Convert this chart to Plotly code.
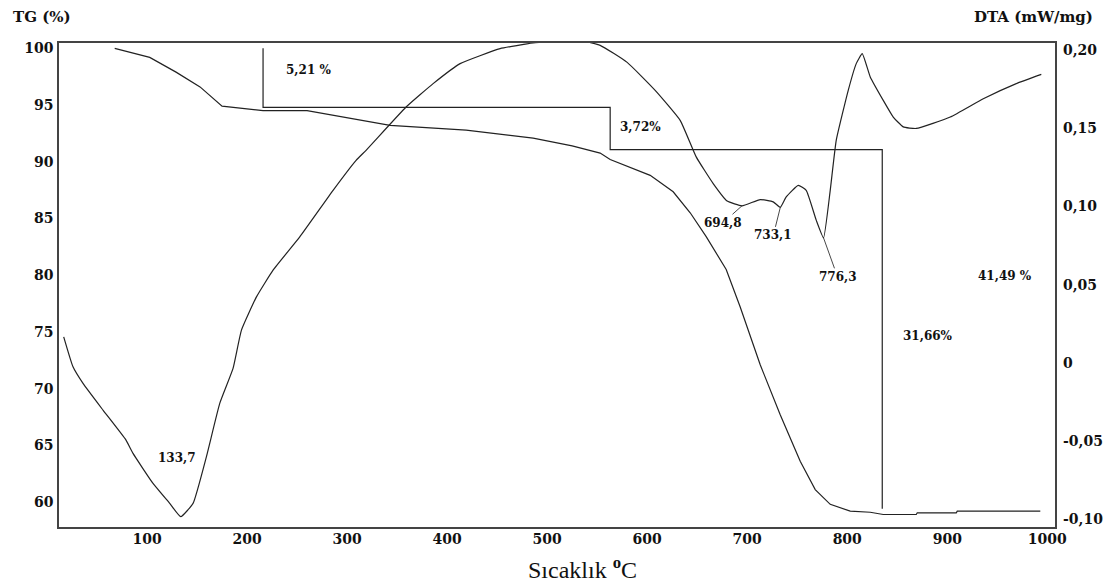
import plotly.graph_objects as go

# --- TG curve (mass %, left axis) ---
temp_tg = [67.7, 102.7, 129, 153, 175, 186, 216, 260, 343, 419, 486, 525, 553, 563,
           603, 626, 643, 659, 679, 693, 713, 733, 753, 768, 783, 803, 823, 836,
           869, 870, 909, 910, 993]
tg = [100, 99.2, 97.9, 96.6, 94.9, 94.8, 94.5, 94.5, 93.2, 92.78, 92.08, 91.4, 90.76, 90.2,
      88.8, 87.35, 85.5, 83.4, 80.5, 77.2, 72.1, 67.7, 63.6, 61.1, 59.8, 59.2, 59.1, 58.9,
      58.9, 59.05, 59.05, 59.2, 59.2]

# --- DTA curve (mW/mg, right axis) ---
temp_dta = [16.7, 26, 36, 56, 79, 86, 106, 122.7, 133.7, 146, 159.4, 172.7, 186, 194.4,
            209.4, 226, 252.7, 286, 309, 319, 359, 386, 413, 453, 486, 520, 536, 553, 580,
            608, 633, 649, 666, 680, 694.8, 713, 726, 733.1, 739, 751, 759, 769, 776.3,
            783, 789, 801, 809, 815, 823, 836, 846, 856, 869, 903, 936, 969, 994]
dta = [0.0166, -0.0026, -0.0132, -0.0303, -0.0495, -0.058, -0.0772, -0.090, -0.0985, -0.090,
       -0.060, -0.026, -0.0036, 0.0209, 0.0422, 0.0593, 0.0806, 0.1104, 0.1296, 0.136,
       0.1637, 0.1787, 0.1915, 0.2011, 0.2047, 0.2065, 0.2060, 0.2032, 0.1923, 0.1744,
       0.1552, 0.1318, 0.1147, 0.1035, 0.1005, 0.1045, 0.1030, 0.0995, 0.1062, 0.1136,
       0.1104, 0.0913, 0.0800, 0.1104, 0.1424, 0.1744, 0.1915, 0.1979, 0.1830, 0.1680,
       0.1573, 0.1510, 0.1500, 0.1573, 0.1690, 0.1787, 0.1846]

# --- mass-loss steps ---
step_temps = [216, 563, 835]
step_losses = [5.21, 3.72, 31.66]
total_loss = 41.49

# --- labelled DTA peaks ---
peak_temps = [133.7, 694.8, 733.1, 776.3]

# axis ticks
x_ticks = [100, 200, 300, 400, 500, 600, 700, 800, 900, 1000]
tg_ticks = [60, 65, 70, 75, 80, 85, 90, 95, 100]
dta_ticks = [-0.10, -0.05, 0, 0.05, 0.10, 0.15, 0.20]
dta_ticktext = ["-0,10", "-0,05", "0", "0,05", "0,10", "0,15", "0,20"]


def comma(v, nd):
    return f"{v:.{nd}f}".replace(".", ",")


INK = "#222222"
TICK_FONT = dict(family="DejaVu Serif", size=14, color="#111111", weight="bold")
LABEL_FONT = dict(family="DejaVu Serif", size=12, color="#111111", weight="bold")
CAPTION_FONT = dict(family="DejaVu Serif", size=15, color="#111111", weight="bold")

fig = go.Figure()

fig.add_trace(go.Scatter(x=temp_tg, y=tg, mode="lines", yaxis="y",
                         line=dict(color=INK, width=1.2), showlegend=False,
                         hoverinfo="skip"))
fig.add_trace(go.Scatter(x=temp_dta, y=dta, mode="lines", yaxis="y2",
                         line=dict(color=INK, width=1.2, shape="spline", smoothing=0.4),
                         showlegend=False, hoverinfo="skip"))

# staircase of mass losses
levels = [100.0]
for loss in step_losses:
    levels.append(round(levels[-1] - loss, 2))
sx, sy = [], []
for i, t in enumerate(step_temps):
    sx += [t, t]
    sy += [levels[i], levels[i + 1]]
    if i + 1 < len(step_temps):
        sx.append(step_temps[i + 1])
        sy.append(levels[i + 1])
fig.add_trace(go.Scatter(x=sx, y=sy, mode="lines", yaxis="y",
                         line=dict(color=INK, width=1.2), showlegend=False,
                         hoverinfo="skip"))

# mass-loss percentage labels
step_label_pos = [(261, 98.06), (593, 93.05), (881, 74.65), (958, 79.93)]
step_label_txt = [comma(step_losses[0], 2) + " %", comma(step_losses[1], 2) + "%",
                  comma(step_losses[2], 2) + "%", comma(total_loss, 2) + " %"]
for (lx, ly), txt in zip(step_label_pos, step_label_txt):
    fig.add_annotation(x=lx, y=ly, xref="x", yref="y", text=txt, showarrow=False,
                       font=LABEL_FONT, xanchor="center", yanchor="middle")

# peak labels with leader lines
dta_at = dict(zip(temp_dta, dta))
peak_offsets = [(-4, -59), (-19, 17), (-7, 28), (14, 39)]
for t, (ox, oy) in zip(peak_temps, peak_offsets):
    if t == peak_temps[0]:
        fig.add_annotation(x=t, y=dta_at[t], xref="x", yref="y2", text=comma(t, 1),
                           showarrow=False, font=LABEL_FONT, xshift=ox, yshift=-oy)
    else:
        fig.add_annotation(x=t, y=dta_at[t], xref="x", yref="y2", text=comma(t, 1),
                           showarrow=True, arrowhead=0, arrowwidth=0.9,
                           arrowcolor="#333333", ax=ox, ay=oy, standoff=0,
                           font=LABEL_FONT)

# axis captions
fig.add_annotation(x=-0.0174, y=1.053, xref="paper", yref="paper", text="TG (%)",
                   showarrow=False, xanchor="center", yanchor="middle",
                   font=CAPTION_FONT)
fig.add_annotation(x=0.978, y=1.053, xref="paper", yref="paper", text="DTA (mW/mg)",
                   showarrow=False, xanchor="center", yanchor="middle",
                   font=CAPTION_FONT)
fig.add_annotation(x=0.526, y=-0.084, xref="paper", yref="paper",
                   text="Sıcaklık <sup><b>o</b></sup>C", showarrow=False,
                   xanchor="center", yanchor="middle",
                   font=dict(family="Liberation Serif", size=24, color="#111111"))

fig.update_layout(
    width=1108, height=588,
    margin=dict(l=59, r=53, t=43, b=61, autoexpand=False),
    paper_bgcolor="white", plot_bgcolor="white",
    xaxis=dict(range=[12, 1007.7], tickvals=x_ticks, ticks="", showgrid=False,
               zeroline=False, showline=True, mirror=True, linecolor="#444444",
               linewidth=1.5, tickfont=TICK_FONT, ticklabelstandoff=-2,
               automargin=False),
    yaxis=dict(range=[57.80, 100.467], tickvals=tg_ticks, ticks="", showgrid=False,
               zeroline=False, showline=True, mirror=True, linecolor="#444444",
               linewidth=1.5, tickfont=TICK_FONT, ticklabelstandoff=1,
               automargin=False),
    yaxis2=dict(range=[-0.1051, 0.2047], tickvals=dta_ticks, ticktext=dta_ticktext,
                overlaying="y", side="right", ticks="", showgrid=False,
                zeroline=False, showline=False, tickfont=TICK_FONT,
                ticklabelstandoff=7, automargin=False),
    showlegend=False,
)

fig.write_html("out.html")
